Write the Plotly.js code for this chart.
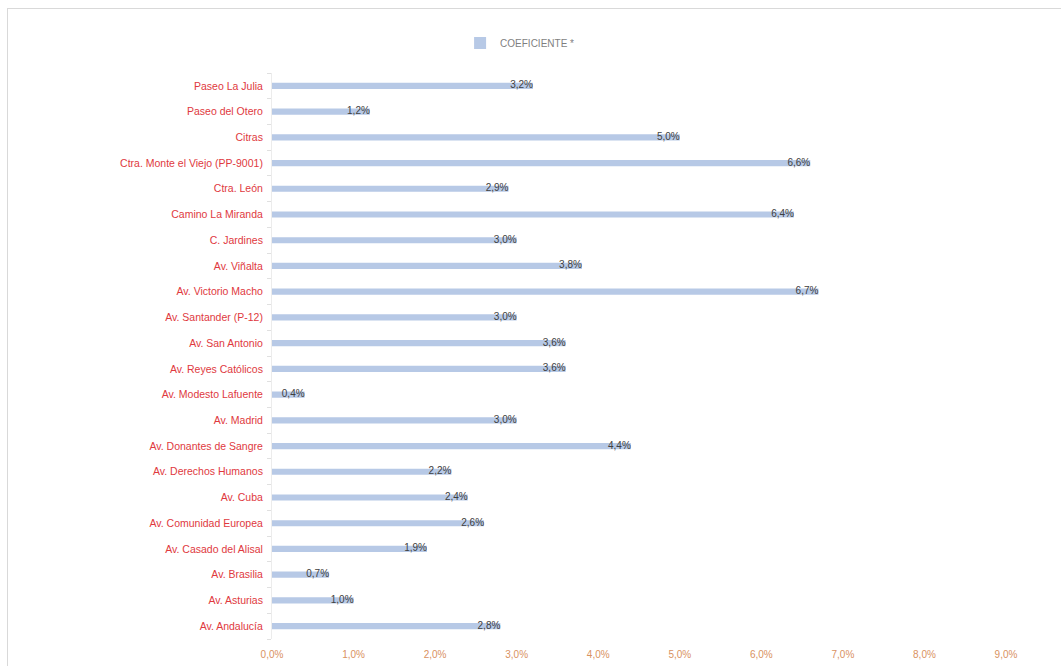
<!DOCTYPE html>
<html>
<head>
<meta charset="utf-8">
<script src="https://cdn.plot.ly/plotly-3.0.1.min.js"></script>
<style>
  html, body { margin: 0; padding: 0; background: #ffffff; }
  #chart { position: absolute; left: 7px; top: 8px; width: 1054px; height: 658px; border: 1px solid #d9d9d9; }
</style>
</head>
<body>
<div id="chart"></div>
<script>
// Categories listed bottom-to-top (as drawn on the category axis)
const categories = [
  "Av. Andalucía",
  "Av. Asturias",
  "Av. Brasilia",
  "Av. Casado del Alisal",
  "Av. Comunidad Europea",
  "Av. Cuba",
  "Av. Derechos Humanos",
  "Av. Donantes de Sangre",
  "Av. Madrid",
  "Av. Modesto Lafuente",
  "Av. Reyes Católicos",
  "Av. San Antonio",
  "Av. Santander (P-12)",
  "Av. Victorio Macho",
  "Av. Viñalta",
  "C. Jardines",
  "Camino La Miranda",
  "Ctra. León",
  "Ctra. Monte el Viejo (PP-9001)",
  "Citras",
  "Paseo del Otero",
  "Paseo La Julia"
];
// Coeficiente (%) per category
const coeficiente = [2.8, 1.0, 0.7, 1.9, 2.6, 2.4, 2.2, 4.4, 3.0, 0.4, 3.6, 3.6, 3.0, 6.7, 3.8, 3.0, 6.4, 2.9, 6.6, 5.0, 1.2, 3.2];
const seriesName = "COEFICIENTE *";
const xTicks = [0, 1, 2, 3, 4, 5, 6, 7, 8, 9];
const xTickText = xTicks.map(v => v.toFixed(1).replace(".", ",") + "%");

const fontFam = "Liberation Sans, Arial, sans-serif";

const bars = {
  type: "bar",
  orientation: "h",
  name: seriesName,
  y: categories,
  x: coeficiente,
  width: 0.24,
  marker: { color: "#b7c9e6", line: { width: 0 } },
  hoverinfo: "x+y"
};

const labels = {
  type: "scatter",
  mode: "text",
  y: categories,
  x: coeficiente,
  text: coeficiente.map(v => v.toFixed(1).replace(".", ",") + "%"),
  textposition: "middle left",
  textfont: { family: fontFam, size: 10, color: "#404040" },
  showlegend: false,
  hoverinfo: "skip",
  cliponaxis: false
};

const layout = {
  width: 1054,
  height: 658,
  margin: { l: 264, r: 56, t: 64, b: 28 },
  paper_bgcolor: "#ffffff",
  plot_bgcolor: "#ffffff",
  showlegend: true,
  legend: {
    orientation: "h",
    x: 0.338, xanchor: "center",
    y: 1.053, yanchor: "middle",
    font: { family: fontFam, size: 10, color: "#7f7f7f" },
    itemwidth: 30
  },
  xaxis: {
    range: [0, 9],
    tickvals: xTicks,
    ticktext: xTickText,
    showgrid: false,
    zeroline: false,
    showline: false,
    ticks: "",
    ticklabelstandoff: 8,
    tickfont: { family: fontFam, size: 10, color: "#d9925f" },
    fixedrange: true
  },
  yaxis: {
    type: "category",
    categoryorder: "array",
    categoryarray: categories,
    range: [-0.5, categories.length - 0.5],
    autorange: false,
    showgrid: false,
    zeroline: false,
    showline: true,
    linecolor: "#ececec",
    linewidth: 1,
    ticks: "outside",
    tickson: "boundaries",
    ticklen: 4,
    tickcolor: "#e0e0e0",
    ticklabelstandoff: 6,
    tickfont: { family: fontFam, size: 10.5, color: "#e0393e" },
    fixedrange: true
  },
  bargap: 0.7
};

Plotly.newPlot("chart", [bars, labels], layout, { displayModeBar: false, staticPlot: true });
</script>
</body>
</html>
